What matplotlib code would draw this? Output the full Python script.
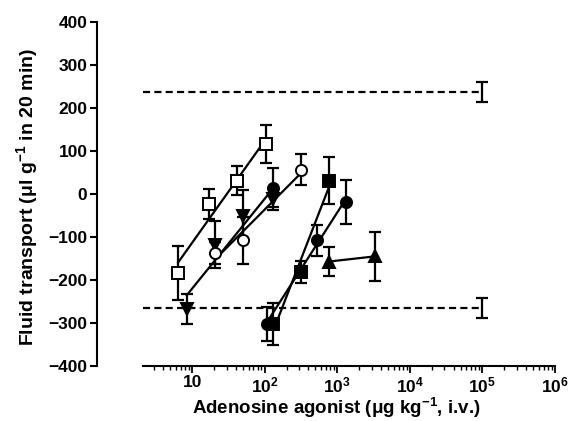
import numpy as np
import matplotlib
matplotlib.use("Agg")
import matplotlib.pyplot as plt
from matplotlib.ticker import FixedLocator, LogLocator, NullFormatter

plt.rcParams['font.family'] = ['Liberation Sans', 'DejaVu Sans']
plt.rcParams['mathtext.fontset'] = 'custom'
plt.rcParams['mathtext.rm'] = 'Liberation Sans:bold'
plt.rcParams['mathtext.bf'] = 'Liberation Sans:bold'
plt.rcParams['mathtext.it'] = 'Liberation Sans:bold:italic'

# ---- data ----
sq_x = [6.4, 16.8, 41, 104]
sq_y = [-183, -23, 31, 116]
sq_err = [63, 35, 33, 45]

tdn_x = [8.45, 20.7, 51, 132]
tdn_y = [-267, -118, -50, -12]
tdn_err = [35, 55, 60, 25]

oc_x = [20.7, 51, 316]
oc_y = [-137, -108, 56]
oc_err = [25, 54, 36]

fcl_x = [132]
fcl_y = [15]
fcl_err = [45]

fsq_x = [132, 314, 771]
fsq_y = [-302, -182, 31]
fsq_err = [49, 26, 54]

fc_x = [107, 521, 1310]
fc_y = [-302, -108, -18]
fc_err = [40, 37, 51]

tup_x = [771, 3310]
tup_y = [-157, -145]
tup_err = [33, 57]

ctrl_x = [1e5, 1e5]
ctrl_y = [237, -265]
ctrl_err = [23, 24]

yticks = [-400, -300, -200, -100, 0, 100, 200, 300, 400]
xticks = [10, 1e2, 1e3, 1e4, 1e5, 1e6]
xticklabels = ['10', r'$\mathbf{10^{2}}$', r'$\mathbf{10^{3}}$', r'$\mathbf{10^{4}}$',
               r'$\mathbf{10^{5}}$', r'$\mathbf{10^{6}}$']

fig = plt.figure(figsize=(5.71, 4.21), dpi=100)
ax = fig.add_axes([0.2504, 0.1306, 0.7215, 0.8171])
ax.set_xscale('log')
ax.set_xlim(2.1, 1e6)
ax.set_ylim(-400, 400)

lw = 1.6
# control dashed lines
for yv in ctrl_y:
    ax.plot([2.1, ctrl_x[0]], [yv, yv], color='black', lw=lw, dashes=(3.2, 1.9), zorder=2)
ax.errorbar(ctrl_x, ctrl_y, yerr=ctrl_err, fmt='none', ecolor='black',
            elinewidth=lw, capsize=4.5, capthick=lw, zorder=3)

series = [
    (sq_x, sq_y, sq_err, 's', 'white', True),
    (tdn_x, tdn_y, tdn_err, 'v', 'black', True),
    (oc_x, oc_y, oc_err, 'o', 'white', True),
    (fcl_x, fcl_y, fcl_err, 'o', 'black', False),
    (fsq_x, fsq_y, fsq_err, 's', 'black', True),
    (fc_x, fc_y, fc_err, 'o', 'black', True),
    (tup_x, tup_y, tup_err, '^', 'black', True),
]

for xs, ys, es, mk, fc, fit in series:
    lx = np.log10(xs)
    if fit and len(xs) > 1:
        p = np.polyfit(lx, ys, 1)
        xe = np.array([min(lx), max(lx)])
        ax.plot(10 ** xe, np.polyval(p, xe), color='black', lw=lw, zorder=2)
    ax.errorbar(xs, ys, yerr=es, fmt='none', ecolor='black',
                elinewidth=lw, capsize=4.5, capthick=lw, zorder=3)
    ax.plot(xs, ys, linestyle='none', marker=mk, markersize=8,
            markerfacecolor=fc, markeredgecolor='black', markeredgewidth=1.4, zorder=4)

# spines
for s in ['top', 'right']:
    ax.spines[s].set_visible(False)
ax.spines['left'].set_position(('outward', 33))
ax.spines['left'].set_linewidth(1.5)
ax.spines['bottom'].set_linewidth(1.5)

ax.yaxis.set_major_locator(FixedLocator(yticks))
ax.set_yticklabels([('−%d' % -v) if v < 0 else str(v) for v in yticks],
                   fontsize=12.5, fontweight='bold')
ax.tick_params(axis='y', direction='out', length=5, width=1.5, pad=2)

ax.xaxis.set_major_locator(FixedLocator(xticks))
ax.set_xticklabels(xticklabels, fontsize=12.5, fontweight='bold')
ax.xaxis.set_minor_locator(LogLocator(base=10, subs=np.arange(2, 10), numticks=20))
ax.xaxis.set_minor_formatter(NullFormatter())
ax.tick_params(axis='x', which='major', direction='out', length=5, width=1.3, pad=1.5)
ax.tick_params(axis='x', which='minor', direction='out', length=3, width=1.0)

ax.set_xlabel('Adenosine agonist (μg kg$^{-1}$, i.v.)', fontsize=13.5, fontweight='bold')
ax.set_ylabel('Fluid transport (μl g$^{-1}$ in 20 min)', fontsize=14, fontweight='bold')
ax.xaxis.set_label_coords(0.468, -0.088)
ax.yaxis.set_label_coords(-0.25, 0.49)

fig.savefig('out.png', dpi=100)
